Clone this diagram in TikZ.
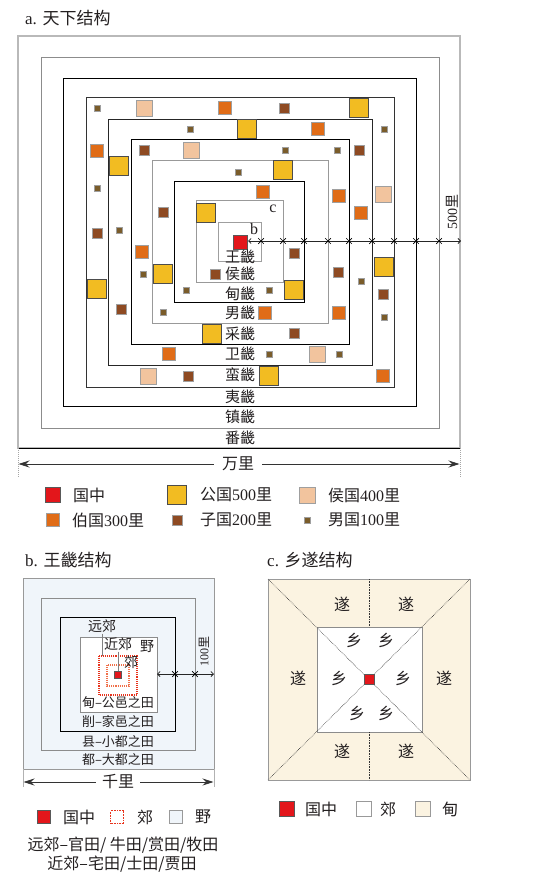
\documentclass[tikz,border=0pt]{standalone}
\usepackage{fontspec}
\setmainfont{Noto Sans CJK SC}
\newfontfamily\lat{Liberation Serif}
\usepackage{xcolor}
\usetikzlibrary{arrows.meta,positioning,shapes.misc}

\definecolor{gongC}{HTML}{F2BC22}
\definecolor{houC}{HTML}{F2C49E}
\definecolor{boC}{HTML}{E06C17}
\definecolor{ziC}{HTML}{8E4A22}
\definecolor{nanC}{HTML}{7A5C2A}
\definecolor{guoC}{HTML}{E3161B}
\definecolor{yeC}{HTML}{F0F5FA}
\definecolor{dianC}{HTML}{FBF3E1}
\definecolor{redDot}{HTML}{E8331C}
\definecolor{oraDot}{HTML}{F0704A}
\definecolor{inkC}{HTML}{231F20}

\begin{document}
\begin{tikzpicture}[x=1pt, y=-1pt, every node/.style={text=inkC},
  fief/.style={draw=gray!75, line width=0.6pt, inner sep=0pt, minimum size=#1},
  guo/.style={fief=#1, fill=guoC, draw=gray!70!black},
  gong/.style={fief=19pt, fill=gongC, draw=black!70},
  hou/.style={fief=16pt, fill=houC},
  bo/.style={fief=13pt, fill=boC},
  zi/.style={fief=10pt, fill=ziC},
  nan/.style={fief=6pt, fill=nanC},
  ring/.style={font=\fontsize{15}{15}\selectfont, inner sep=0pt},
  lgtext/.style={anchor=west, font=\fontsize{16}{17}\selectfont, inner sep=0pt},
  title/.style={anchor=west, font=\fontsize{17}{18}\selectfont, inner sep=0pt},
  tickx/.style={cross out, draw=black, line width=0.7pt, minimum size=5pt, inner sep=0pt},
  dim/.style={line width=0.8pt, draw=black!85},
  barb/.style={{Straight Barb[length=2.5pt,width=5pt]}-{Straight Barb[length=2.5pt,width=5pt]}},
  arr/.style={-{Stealth[length=11pt,width=7pt]}, line width=0.7pt, draw=black!80}
]
\useasboundingbox (0,0) rectangle (538,878);

% ---------- a. tianxia ----------
\node[title] (titleA) at (25,18) {{\lat a. }天下结构};
\foreach \l/\t/\r/\b/\c/\w in {18/36/460/448/gray!55/1.3, 41/57/439/428/gray!90/0.8,
    63/78/416/406/black/0.8, 86/97/394/387/black!80/0.8, 108/119/372/365/black!85/0.8,
    131/139/349/344/black/0.8, 152/160/328/323/gray!80/0.8, 174/181/304/302/black/0.8,
    196/200/283/282/gray!80/0.8, 218/222/261/261/gray!75/0.8}
  \draw[draw=\c, line width=\w pt] (\l,\t) rectangle (\r,\b);
\draw[black, line width=0.8pt] (18,448) -- (460,448);
\draw[gray!70, densely dotted, line width=1pt] (18,448) -- (18,478);
\draw[gray!70, densely dotted, line width=1pt] (460,448) -- (460,478);

% fiefs
\foreach \x/\y [count=\i] in {359/108, 247/129, 119/166, 283/170, 206/213, 163/274,
    384/267, 97/289, 294/290, 212/334, 269/376}
  \node[gong] (gong\i) at (\x,\y) {};
\foreach \x/\y [count=\i] in {144/108, 191/150, 383/194, 317/354, 148/376}
  \node[hou] (hou\i) at (\x,\y) {};
\foreach \x/\y [count=\i] in {225/108, 318/129, 97/151, 263/192, 339/196, 361/213,
    142/252, 265/313, 339/313, 169/354, 383/376}
  \node[bo] (bo\i) at (\x,\y) {};
\foreach \x/\y [count=\i] in {284/108, 144/150, 359/150, 163/212, 97/233, 294/253,
    215/274, 338/272, 383/294, 121/309, 294/333, 188/376}
  \node[zi] (zi\i) at (\x,\y) {};
\foreach \x/\y [count=\i] in {97/108, 190/129, 384/129, 285/150, 337/150, 238/172,
    97/188, 119/230, 143/274, 361/281, 186/290, 269/290, 163/312, 384/317,
    269/354, 339/354}
  \node[nan] (nan\i) at (\x,\y) {};
\node[guo=14pt] (guoA) at (240,242) {};

% ring names
\foreach \y/\t [count=\i] in {257/王畿, 274/侯畿, 294/甸畿, 313/男畿, 334/采畿,
    354/卫畿, 375/蛮畿, 397/夷畿, 417/镇畿, 438/番畿}
  \node[ring] (ji\i) at (240,\y) {\t};
\node[font=\lat\fontsize{16}{16}\selectfont, inner sep=0pt] (labC) at (273,209) {c};
\node[font=\lat\fontsize{16}{16}\selectfont, inner sep=0pt] (labB) at (254,229) {b};

% 500 li
\coordinate (fiveL) at (248,241);
\coordinate (fiveR) at (461,241);
\draw[dim, barb] (fiveL) -- (fiveR);
\foreach \x [count=\i] in {261,283,304,328,349,372,394,416,439}
  \node[tickx] (tk\i) at (\x,241) {};
\node[rotate=90, font=\fontsize{14}{14}\selectfont, inner sep=0pt] (fiveLi) at (452,212) {{\lat 500}里};

% wan li
\node[font=\fontsize{16}{16}\selectfont, inner sep=8pt] (wanli) at (238,464) {万里};
\coordinate (wanL) at (18.5,464);
\coordinate (wanR) at (459.5,464);
\draw[arr] (wanli) -- (wanL);
\draw[arr] (wanli) -- (wanR);

% legend a
\node[guo=15pt] (lgGuo) at (53,495) {};
\node[lgtext] (lgGuoT) at (73,495) {国中};
\node[gong] (lgGong) at (177,495) {};
\node[lgtext] (lgGongT) at (200,495) {公国{\lat 500}里};
\node[hou] (lgHou) at (307,495) {};
\node[lgtext] (lgHouT) at (328,495) {侯国{\lat 400}里};
\node[bo] (lgBo) at (53,520) {};
\node[lgtext] (lgBoT) at (72,520) {伯国{\lat 300}里};
\node[zi] (lgZi) at (177,520) {};
\node[lgtext] (lgZiT) at (200,520) {子国{\lat 200}里};
\node[nan] (lgNan) at (307,520) {};
\node[lgtext] (lgNanT) at (328,520) {男国{\lat 100}里};

% ---------- b. wangji ----------
\node[title] (titleB) at (25,560) {{\lat b. }王畿结构};
\draw[draw=gray!80, fill=yeC, line width=0.9pt] (23,578) rectangle (214,769);
\draw[draw=gray!90, line width=0.8pt] (41,598) rectangle (195,750);
\draw[draw=black, line width=0.8pt] (60,617) rectangle (175,731);
\draw[draw=gray!90, fill=white, line width=0.8pt] (80,637) rectangle (157,712);
\draw[draw=redDot, densely dotted, line width=1.1pt, fill=white] (99,656) rectangle (137,695);
\draw[draw=oraDot, densely dotted, line width=1.1pt] (107,665) rectangle (129,686);
\node[guo=7pt] (guoB) at (118,675) {};

\node[font=\fontsize{14}{14}\selectfont, inner sep=1pt] (yuanjiao) at (102,626) {远郊};
\coordinate (yjEnd) at (102,656);
\draw[gray, line width=0.5pt] (yuanjiao) -- (yjEnd);
\node[font=\fontsize{14}{14}\selectfont, inner sep=1pt] (jinjiao) at (118,644) {近郊};
\draw[gray, line width=0.5pt] (jinjiao) -- (guoB);
\node[font=\fontsize{14}{14}\selectfont, inner sep=0pt] (ye) at (147,647) {野};
\node[font=\fontsize{14}{14}\selectfont, inner sep=0pt] (jiao) at (131,662) {郊};
\foreach \y/\t [count=\i] in {703/甸–公邑之田, 722/削–家邑之田, 742/县–小都之田, 760/都–大都之田}
  \node[font=\fontsize{13}{13}\selectfont, inner sep=0pt] (tian\i) at (118,\y) {\t};

% 100 li
\coordinate (hundL) at (157,674);
\coordinate (hundR) at (214,674);
\draw[dim, barb] (hundL) -- (hundR);
\node[tickx] (tkb1) at (175,674) {};
\node[tickx] (tkb2) at (195,674) {};
\node[rotate=90, font=\fontsize{12}{12}\selectfont, inner sep=0pt] (hundLi) at (204,651) {{\lat 100}里};

% qian li
\draw[gray!60, line width=0.5pt] (23,769) -- (23,787);
\draw[gray!60, line width=0.5pt] (214,769) -- (214,787);
\node[font=\fontsize{16}{16}\selectfont, inner sep=6pt] (qianli) at (118,782) {千里};
\coordinate (qianL) at (23.5,782);
\coordinate (qianR) at (213.5,782);
\draw[arr] (qianli) -- (qianL);
\draw[arr] (qianli) -- (qianR);

% legend b
\node[guo=13pt] (lgbGuo) at (44,817) {};
\node[lgtext] (lgbGuoT) at (63,817) {国中};
\node[fief=13pt, draw=redDot, densely dotted, line width=1pt, fill=white] (lgbJiao) at (117,817) {};
\node[lgtext] (lgbJiaoT) at (137,817) {郊};
\node[fief=13pt, fill=yeC, draw=gray!80] (lgbYe) at (176,817) {};
\node[lgtext] (lgbYeT) at (195,817) {野};
\node[font=\fontsize{16}{16}\selectfont, inner sep=0pt] (noteA) at (123,845) {远郊–官田/ 牛田/赏田/牧田};
\node[font=\fontsize{16}{16}\selectfont, inner sep=0pt] (noteB) at (122,864) {近郊–宅田/士田/贾田};

% ---------- c. xiangsui ----------
\node[title] (titleC) at (267,560) {{\lat c. }乡遂结构};
\draw[draw=gray!80, fill=dianC, line width=0.9pt] (268,579) rectangle (470,780);
\draw[draw=gray!90, fill=white, line width=0.8pt] (317,627) rectangle (422,732);
\draw[black!80, densely dotted, line width=0.6pt] (268,579) -- (470,780);
\draw[black!80, densely dotted, line width=0.6pt] (470,579) -- (268,780);
\draw[black!80, densely dotted, line width=0.6pt] (369,579) -- (369,627);
\draw[black!80, densely dotted, line width=0.6pt] (369,732) -- (369,780);
\node[guo=10pt] (guoC) at (369,679.5) {};
\foreach \x/\y [count=\i] in {342/604, 406/604, 298/678, 444/678, 342/751, 406/751}
  \node[font=\fontsize{16}{16}\selectfont, inner sep=0pt] (sui\i) at (\x,\y) {遂};
\foreach \x/\y [count=\i] in {354/640, 386/640, 339/678, 403/678, 357/713, 386/713}
  \node[font=\fontsize{16}{16}\selectfont, inner sep=0pt] (xiang\i) at (\x,\y) {乡};

% legend c
\node[guo=15pt] (lgcGuo) at (287,809) {};
\node[lgtext] (lgcGuoT) at (305,809) {国中};
\node[fief=15pt, fill=white, draw=gray!80] (lgcJiao) at (364,809) {};
\node[lgtext] (lgcJiaoT) at (380,809) {郊};
\node[fief=15pt, fill=dianC, draw=gray!80] (lgcDian) at (423,809) {};
\node[lgtext] (lgcDianT) at (442,809) {甸};
\end{tikzpicture}
\end{document}
